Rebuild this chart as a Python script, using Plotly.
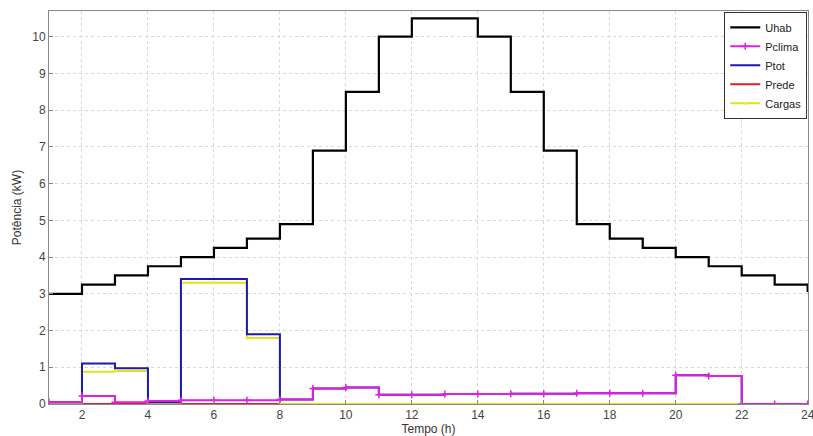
import plotly.graph_objects as go

hours = list(range(1, 25))
uhab = [3.0, 3.25, 3.5, 3.75, 4.0, 4.25, 4.5, 4.9, 6.9, 8.5, 10.0, 10.5,
        10.5, 10.0, 8.5, 6.9, 4.9, 4.5, 4.25, 4.0, 3.75, 3.5, 3.25, 3.05]
pclima = [0.05, 0.22, 0.05, 0.08, 0.1, 0.1, 0.1, 0.12, 0.42, 0.45, 0.25, 0.25,
          0.27, 0.27, 0.28, 0.28, 0.29, 0.29, 0.29, 0.78, 0.76, 0.0, 0.0, 0.0]
ptot = [0.05, 1.1, 0.97, 0.05, 3.4, 3.4, 1.9, 0.12, 0.42, 0.45, 0.25, 0.25,
        0.27, 0.27, 0.28, 0.28, 0.29, 0.29, 0.29, 0.78, 0.76, 0.0, 0.0, 0.0]
prede = [0.0] * 24
cargas = [0.0, 0.88, 0.9, 0.0, 3.3, 3.3, 1.8, 0.0, 0.0, 0.0, 0.0, 0.0,
          0.0, 0.0, 0.0, 0.0, 0.0, 0.0, 0.0, 0.0, 0.0, 0.0, 0.0, 0.0]

fig = go.Figure()
# ordem de desenho: Prede, Cargas, Ptot, Uhab, Pclima (legenda pela legendrank)
fig.add_trace(go.Scatter(x=hours, y=prede, name="Prede", mode="lines", line_shape="hv",
                         line=dict(color="#e02020", width=2), legendrank=4))
fig.add_trace(go.Scatter(x=hours, y=cargas, name="Cargas", mode="lines+markers", line_shape="hv",
                         line=dict(color="#e2e21a", width=2),
                         marker=dict(symbol="circle", size=3, color="#f0f020"), legendrank=5))
fig.add_trace(go.Scatter(x=hours, y=ptot, name="Ptot", mode="lines", line_shape="hv",
                         line=dict(color="#1a1ab4", width=2), legendrank=3))
fig.add_trace(go.Scatter(x=hours, y=uhab, name="Uhab", mode="lines", line_shape="hv",
                         line=dict(color="black", width=2.2), legendrank=1))
fig.add_trace(go.Scatter(x=hours, y=pclima, name="Pclima", mode="lines+markers", line_shape="hv",
                         line=dict(color="#e020e0", width=2),
                         marker=dict(symbol="cross-thin", size=5, line=dict(color="#e020e0", width=1.5)),
                         legendrank=2))

axis_common = dict(showline=True, linecolor="#888", linewidth=1, mirror=True,
                   ticks="inside", ticklen=4, tickcolor="#888",
                   showgrid=True, gridcolor="#d8d8d8", griddash="dot", gridwidth=1,
                   zeroline=False, automargin=False, ticklabeloverflow="allow",
                   tickfont=dict(family="Liberation Sans, Arial", size=12, color="#444"))

fig.update_xaxes(range=[1, 24.01], tickvals=list(range(2, 25, 2)),
                 title=dict(text="Tempo (h)", standoff=10,
                            font=dict(family="Liberation Sans, Arial", size=12, color="#333")),
                 **axis_common)
fig.update_yaxes(range=[0, 10.7], tickvals=list(range(0, 11)),
                 title=dict(text="Potência (kW)", standoff=8,
                            font=dict(family="Liberation Sans, Arial", size=12, color="#333")),
                 **axis_common)

fig.update_layout(
    width=813, height=436,
    margin=dict(l=49, r=5, t=11, b=32),
    plot_bgcolor="white", paper_bgcolor="white",
    legend=dict(x=0.999, y=0.998, xanchor="right", yanchor="top",
                bgcolor="white", bordercolor="#333", borderwidth=1,
                font=dict(family="Liberation Sans, Arial", size=11, color="#222"),
                tracegroupgap=0, itemwidth=30),
)

fig.write_html("out.html", config={"displayModeBar": False},
               post_script="document.body.style.margin='0';")
